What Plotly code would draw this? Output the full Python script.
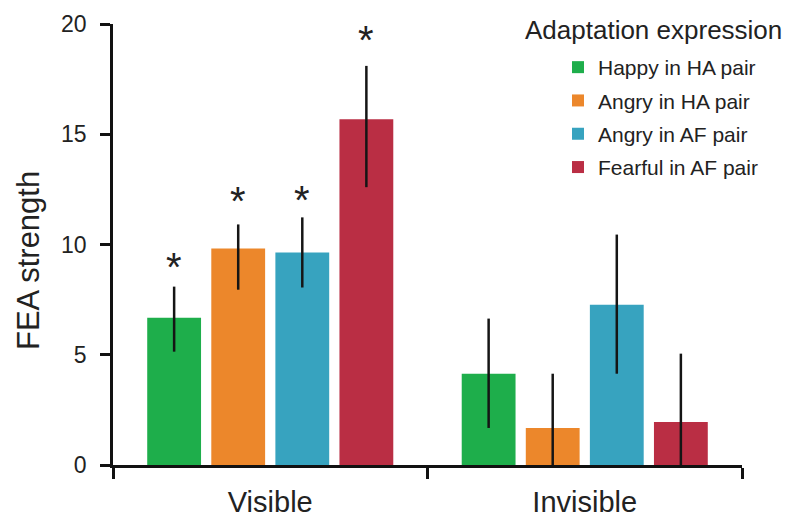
import plotly.graph_objects as go

categories = ["Visible", "Invisible"]
series_names = ["Happy in HA pair", "Angry in HA pair", "Angry in AF pair", "Fearful in AF pair"]
colors = ["#1eae4b", "#ec872b", "#37a3bf", "#ba2e44"]

values = [
    [6.68, 4.14],   # Happy in HA pair
    [9.82, 1.68],   # Angry in HA pair
    [9.64, 7.27],   # Angry in AF pair
    [15.68, 1.95],  # Fearful in AF pair
]
err_plus = [
    [1.41, 2.50],
    [1.09, 2.46],
    [1.59, 3.18],
    [2.42, 3.10],
]
err_minus = [
    [1.54, 2.46],
    [1.87, 1.68],
    [1.59, 3.13],
    [3.08, 1.95],
]
# significance markers: (series index, category index, y position)
stars = [(0, 0, 9.18), (1, 0, 12.14), (2, 0, 12.18), (3, 0, 19.45)]

y_ticks = [0, 5, 10, 15, 20]
y_title = "FEA strength"
legend_title = "Adaptation expression"

W, H = 786, 519
ML, MR, MT, MB = 113, 44, 24, 54
PW, PH = W - ML - MR, H - MT - MB
BARGAP = 0.185
GROUPGAP = 0.16

fig = go.Figure()
for i, name in enumerate(series_names):
    fig.add_trace(go.Bar(
        name=name,
        x=categories,
        y=values[i],
        marker=dict(color=colors[i], line=dict(width=0)),
        error_y=dict(type="data", array=err_plus[i], arrayminus=err_minus[i],
                     symmetric=False, color="#151515", thickness=2.5, width=0),
        legendgroup=f"g{i}",
    ))

n = len(series_names)
slot = (1 - BARGAP) / n
annotations = []
for (si, ci, yv) in stars:
    annotations.append(dict(
        x=ci + (si - (n - 1) / 2) * slot, y=yv, xref="x", yref="y",
        text="*", showarrow=False, yanchor="middle", yshift=-4,
        font=dict(size=40, color="#222222", family="Liberation Sans"),
    ))
annotations.append(dict(
    x=(523 - ML) / PW, y=(H - MB - 30) / PH,
    xref="paper", yref="paper",
    text=legend_title, showarrow=False, xanchor="left", yanchor="middle",
    font=dict(size=26, color="#222222", family="Liberation Sans"),
))
annotations.append(dict(
    x=(28 - ML) / PW, y=(H - MB - 261) / PH,
    xref="paper", yref="paper",
    text=y_title, textangle=-90, showarrow=False, xanchor="center", yanchor="middle",
    font=dict(size=31, color="#222222", family="Liberation Sans"),
))

fig.update_layout(
    width=W, height=H,
    margin=dict(l=ML, r=MR, t=MT, b=MB, pad=0, autoexpand=False),
    paper_bgcolor="white", plot_bgcolor="white",
    barmode="group", bargap=BARGAP, bargroupgap=GROUPGAP,
    font=dict(family="Liberation Sans", color="#222222"),
    showlegend=True,
    legend=dict(
        xref="container", yref="container",
        x=558 / W, y=1 - 47 / H, xanchor="left", yanchor="top",
        font=dict(size=21, color="#222222", family="Liberation Sans"),
        tracegroupgap=3, bgcolor="rgba(0,0,0,0)", borderwidth=0,
    ),
    annotations=annotations,
    xaxis=dict(
        type="category", range=[-0.5, 1.5],
        showline=True, linecolor="#111111", linewidth=2.5,
        ticks="outside", tickson="boundaries", ticklen=11, tickwidth=2.5, tickcolor="#111111",
        tickfont=dict(size=29, color="#222222"), ticklabelstandoff=9,
        showgrid=False, zeroline=False,
    ),
    xaxis2=dict(
        overlaying="x", anchor="y", range=[-0.5, 1.5],
        tickmode="array", tickvals=[0.5, 1.5], ticks="inside", ticklen=8,
        tickwidth=2.5, tickcolor="#111111", showticklabels=False,
        showline=False, showgrid=False, zeroline=False,
    ),
    yaxis=dict(
        range=[0, 20], tickmode="array", tickvals=y_ticks,
        showline=True, linecolor="#111111", linewidth=2.5,
        ticks="outside", ticklen=10, tickwidth=2.5, tickcolor="#111111",
        tickfont=dict(size=23, color="#222222"), ticklabelstandoff=9,
        showgrid=False, zeroline=False,
    ),
)

fig.write_html("out.html", config={"displayModeBar": False},
               post_script="document.body.style.margin='0';")
